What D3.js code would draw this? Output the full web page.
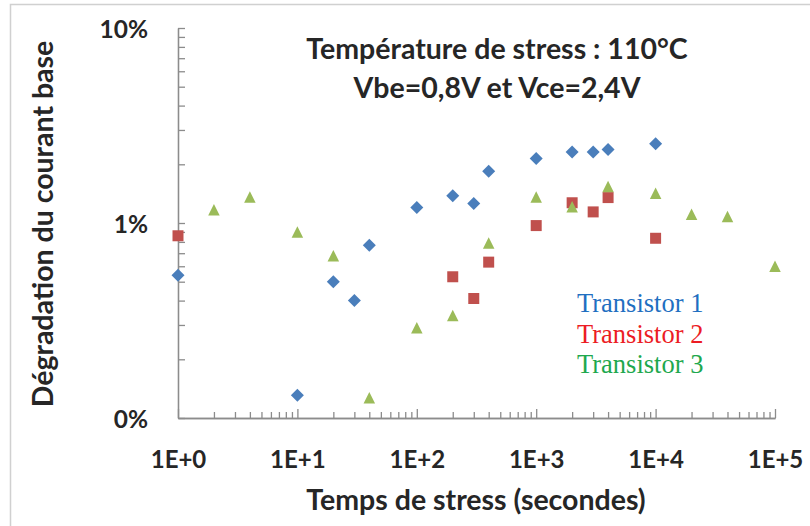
<!DOCTYPE html>
<html>
<head>
<meta charset="utf-8">
<script src="https://cdn.jsdelivr.net/npm/d3@7"></script>
<style>
  body { margin: 0; background: #fff; }
  svg { display: block; }
  .lbl { font-family: Lato, "Open Sans", sans-serif; font-weight: bold; fill: #262626; }
</style>
</head>
<body>
<svg width="810" height="526"></svg>
<script>
// stress time (s) and base current degradation (%)
var t1Time = [1, 10, 20, 30, 40, 100, 200, 300, 400, 1000, 2000, 3000, 4000, 10000];
var t1Deg  = [0.54, 0.131, 0.50, 0.40, 0.77, 1.20, 1.38, 1.26, 1.84, 2.14, 2.31, 2.31, 2.38, 2.55];

var t2Time = [1, 200, 300, 400, 1000, 2000, 3000, 4000, 10000];
var t2Deg  = [0.86, 0.53, 0.41, 0.63, 0.97, 1.27, 1.14, 1.35, 0.835];

var t3Time = [2, 4, 10, 20, 40, 100, 200, 400, 1000, 2000, 4000, 10000, 20000, 40000, 100000];
var t3Deg  = [1.17, 1.36, 0.90, 0.68, 0.127, 0.29, 0.335, 0.79, 1.36, 1.21, 1.54, 1.42, 1.11, 1.08, 0.60];

var seriesNames = ["Transistor 1", "Transistor 2", "Transistor 3"];
var xMajor = [1, 10, 100, 1000, 10000, 100000];
var xLabels = ["1E+0", "1E+1", "1E+2", "1E+3", "1E+4", "1E+5"];
var yMajor = [0.1, 1, 10];
var yLabels = ["0%", "1%", "10%"];

var svg = d3.select("svg"),
    width = +svg.attr("width"),
    height = +svg.attr("height");

// outer frame
svg.append("rect")
  .attr("x", 10.5).attr("y", 4.5)
  .attr("width", 900).attr("height", 700)
  .attr("fill", "none").attr("stroke", "#d0d0d0").attr("stroke-width", 1.5);

var x = d3.scaleLog().domain([1, 1e5]).range([178, 775]);
var y = d3.scaleLog().domain([0.1, 10]).range([418, 28]);

// minor tick values 2..9 in each decade
var xMinor = [], yMinor = [];
for (var d = 1; d < 1e5; d *= 10) for (var k = 2; k <= 9; k++) xMinor.push(d * k);
for (var d2 = 0.1; d2 < 9; d2 *= 10) for (var k2 = 2; k2 <= 9; k2++) yMinor.push(d2 * k2);

var axisCol = "#8c8c8c";

function styleAxis(g) {
  g.selectAll("path, line").attr("stroke", axisCol).attr("stroke-width", 1.3);
}

// x axis
svg.append("g")
  .attr("transform", "translate(0,418)")
  .call(d3.axisBottom(x).tickValues(xMinor).tickSize(-6).tickSizeOuter(0).tickFormat(""))
  .call(styleAxis);

var xg = svg.append("g")
  .attr("transform", "translate(0,418)")
  .call(d3.axisBottom(x).tickValues(xMajor).tickSize(-9).tickSizeOuter(0)
    .tickFormat(function(d, i) { return xLabels[i]; }))
  .call(styleAxis);
xg.selectAll("text")
  .attr("class", "lbl").attr("y", 50).attr("dy", null)
  .style("font-size", "24px").attr("fill", "#262626");

// y axis
svg.append("g")
  .attr("transform", "translate(178,0)")
  .call(d3.axisLeft(y).tickValues(yMinor).tickSize(-7).tickSizeOuter(0).tickFormat(""))
  .call(styleAxis);

var yg = svg.append("g")
  .attr("transform", "translate(178,0)")
  .call(d3.axisLeft(y).tickValues(yMajor).tickSize(-7).tickSizeOuter(0)
    .tickFormat(function(d, i) { return yLabels[i]; }))
  .call(styleAxis);
yg.selectAll("text")
  .attr("class", "lbl").attr("x", -30).attr("dy", "0.37em")
  .style("font-size", "24.5px").attr("fill", "#262626");

svg.selectAll(".domain").attr("stroke", axisCol);

// markers
var diamond = {
  draw: function(ctx, size) {
    var r = Math.sqrt(size) / 2;
    ctx.moveTo(0, -r); ctx.lineTo(r, 0); ctx.lineTo(0, r); ctx.lineTo(-r, 0); ctx.closePath();
  }
};
var triangle = {
  draw: function(ctx, size) {
    var r = Math.sqrt(size) / 2;
    ctx.moveTo(0, -r); ctx.lineTo(r, r); ctx.lineTo(-r, r); ctx.closePath();
  }
};

var series = [
  { xs: t1Time, ys: t1Deg, color: "#4a7ebb", sym: diamond, size: 13 * 13 },
  { xs: t2Time, ys: t2Deg, color: "#c0504d", sym: d3.symbolSquare, size: 11 * 11 },
  { xs: t3Time, ys: t3Deg, color: "#9bbb59", sym: triangle, size: 11.5 * 11.5 }
];

series.forEach(function(s) {
  svg.append("g").selectAll("path")
    .data(s.xs.map(function(t, i) { return [t, s.ys[i]]; }))
    .enter().append("path")
      .attr("transform", function(d) { return "translate(" + x(d[0]) + "," + y(d[1]) + ")"; })
      .attr("d", d3.symbol().type(s.sym).size(s.size))
      .attr("fill", s.color);
});

// title
svg.append("text").attr("class", "lbl")
  .attr("x", 497).attr("y", 59).attr("text-anchor", "middle")
  .style("font-size", "28.5px")
  .text("Température de stress : 110°C");
svg.append("text").attr("class", "lbl")
  .attr("x", 497).attr("y", 98).attr("text-anchor", "middle")
  .style("font-size", "28.5px")
  .text("Vbe=0,8V et Vce=2,4V");

// axis titles
svg.append("text").attr("class", "lbl")
  .attr("x", 476).attr("y", 510).attr("text-anchor", "middle")
  .style("font-size", "28.5px")
  .text("Temps de stress (secondes)");
svg.append("text").attr("class", "lbl")
  .attr("transform", "translate(53,224) rotate(-90)")
  .attr("text-anchor", "middle")
  .style("font-size", "28.5px")
  .text("Dégradation du courant base");

// legend text (serif, coloured like the series)
var legColors = ["#1f6fc1", "#ec1c24", "#1ea84e"];
svg.append("g").selectAll("text")
  .data(seriesNames)
  .enter().append("text")
    .attr("x", 577)
    .attr("y", function(d, i) { return 312 + i * 30.5; })
    .style("font-family", "'Liberation Serif', 'DejaVu Serif', serif")
    .style("font-size", "26.5px")
    .attr("fill", function(d, i) { return legColors[i]; })
    .text(function(d) { return d; });
</script>
</body>
</html>
